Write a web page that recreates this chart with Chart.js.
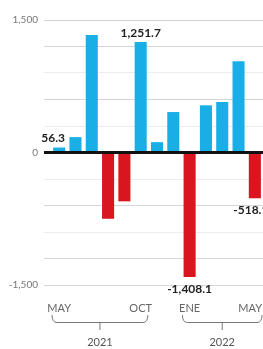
<!DOCTYPE html>
<html>
<head>
<meta charset="utf-8">
<script src="https://cdn.jsdelivr.net/npm/chart.js@4"></script>
<style>
  html, body { margin: 0; padding: 0; background: #fff; }
  #wrap { width: 263px; height: 349px; position: relative; }
</style>
</head>
<body>
<div id="wrap"><canvas id="chart"></canvas></div>
<script>
// monthly values, May 2021 - May 2022
const months = ['MAY', 'JUN', 'JUL', 'AGO', 'SEP', 'OCT', 'NOV', 'DIC', 'ENE', 'FEB', 'MAR', 'ABR', 'MAY'];
const values = [56.3, 174, 1330, -750, -553, 1251.7, 117, 458, -1408.1, 534, 572, 1034, -518.1];
const shownMonths = [0, 5, 8, 12];
const labelled = [0, 5, 8, 12];
const years = [{ label: '2021', from: 0, to: 5 }, { label: '2022', from: 8, to: 12 }];
const yTicks = [-1500, 0, 1500];

const BLUE = '#19aee6';
const RED = '#d9151f';
const FONT = 'Lato, "Open Sans", sans-serif';

const fmt = v => v.toLocaleString('en-US', { minimumFractionDigits: Math.abs(v) >= 100 && v % 1 !== 0 ? 1 : 0 });

const extras = {
  id: 'extras',
  afterDraw(chart) {
    const ctx = chart.ctx;
    const x = chart.scales.x;
    const meta = chart.getDatasetMeta(0);
    ctx.save();

    // value labels
    ctx.fillStyle = '#222';
    ctx.font = 'bold 12px ' + FONT;
    ctx.textAlign = 'center';
    labelled.forEach(i => {
      const bar = meta.data[i];
      const v = values[i];
      let txt = v.toLocaleString('en-US', { minimumFractionDigits: 1, maximumFractionDigits: 1 });
      let cx = bar.x;
      if (i === 0) cx = bar.x - 6;
      if (i === 12) cx = bar.x - 4;
      if (v >= 0) {
        ctx.textBaseline = 'bottom';
        ctx.fillText(txt, cx, bar.y - 3);
      } else {
        ctx.textBaseline = 'top';
        ctx.fillText(txt, cx, bar.y + 6);
      }
    });

    // month labels
    ctx.fillStyle = '#666';
    ctx.font = '11px ' + FONT;
    ctx.textBaseline = 'middle';
    shownMonths.forEach(i => {
      let cx = x.getPixelForValue(i);
      const w = ctx.measureText(months[i]).width;
      cx = Math.min(cx, chart.width - w / 2 - 1);
      ctx.fillText(months[i], cx, 308);
    });

    // year brackets
    ctx.strokeStyle = '#777';
    ctx.lineWidth = 1;
    years.forEach(y => {
      const half = x.width / months.length / 2;
      const l = x.getPixelForValue(y.from) - half + 1;
      const r = Math.min(x.getPixelForValue(y.to) + half - 1, chart.width + 5);
      const mid = (l + r) / 2;
      const yb = 322.5;
      ctx.beginPath();
      ctx.moveTo(l, 315);
      ctx.quadraticCurveTo(l, yb, l + 5, yb);
      ctx.lineTo(r - 5, yb);
      ctx.quadraticCurveTo(r, yb, r, 315);
      ctx.stroke();
      ctx.beginPath();
      ctx.moveTo(mid, yb);
      ctx.lineTo(mid, 330);
      ctx.stroke();
      ctx.fillStyle = '#555';
      ctx.font = '11px ' + FONT;
      ctx.textAlign = 'center';
      ctx.fillText(y.label, mid, 342);
    });
    ctx.restore();
  }
};

new Chart(document.getElementById('chart'), {
  type: 'bar',
  data: {
    labels: months,
    datasets: [{
      data: values,
      backgroundColor: values.map(v => v >= 0 ? BLUE : RED),
      barPercentage: 0.74,
      categoryPercentage: 1
    }]
  },
  options: {
    responsive: true,
    maintainAspectRatio: false,
    animation: false,
    layout: { padding: { top: 20, left: 0, right: 0, bottom: 0 } },
    plugins: { legend: { display: false }, tooltip: { enabled: false } },
    scales: {
      x: {
        offset: true,
        grid: { display: false },
        border: { display: false },
        ticks: { display: false },
        afterFit: s => { s.height = 64; }
      },
      y: {
        min: -1500,
        max: 1500,
        border: { display: false },
        ticks: {
          stepSize: 300,
          padding: 6,
          color: '#777',
          font: { family: FONT, size: 10 },
          callback: v => yTicks.includes(v) ? v.toLocaleString('en-US') : ''
        },
        grid: {
          drawTicks: true,
          tickLength: 7,
          color: c => c.tick.value === 0 ? '#111' : (c.tick.value % 600 === 0 || Math.abs(c.tick.value) === 1500 ? '#d6d6d6' : '#ececec'),
          lineWidth: c => c.tick.value === 0 ? 3 : 1
        },
        afterFit: s => { s.width = 51; }
      }
    }
  },
  plugins: [extras]
});
</script>
</body>
</html>
